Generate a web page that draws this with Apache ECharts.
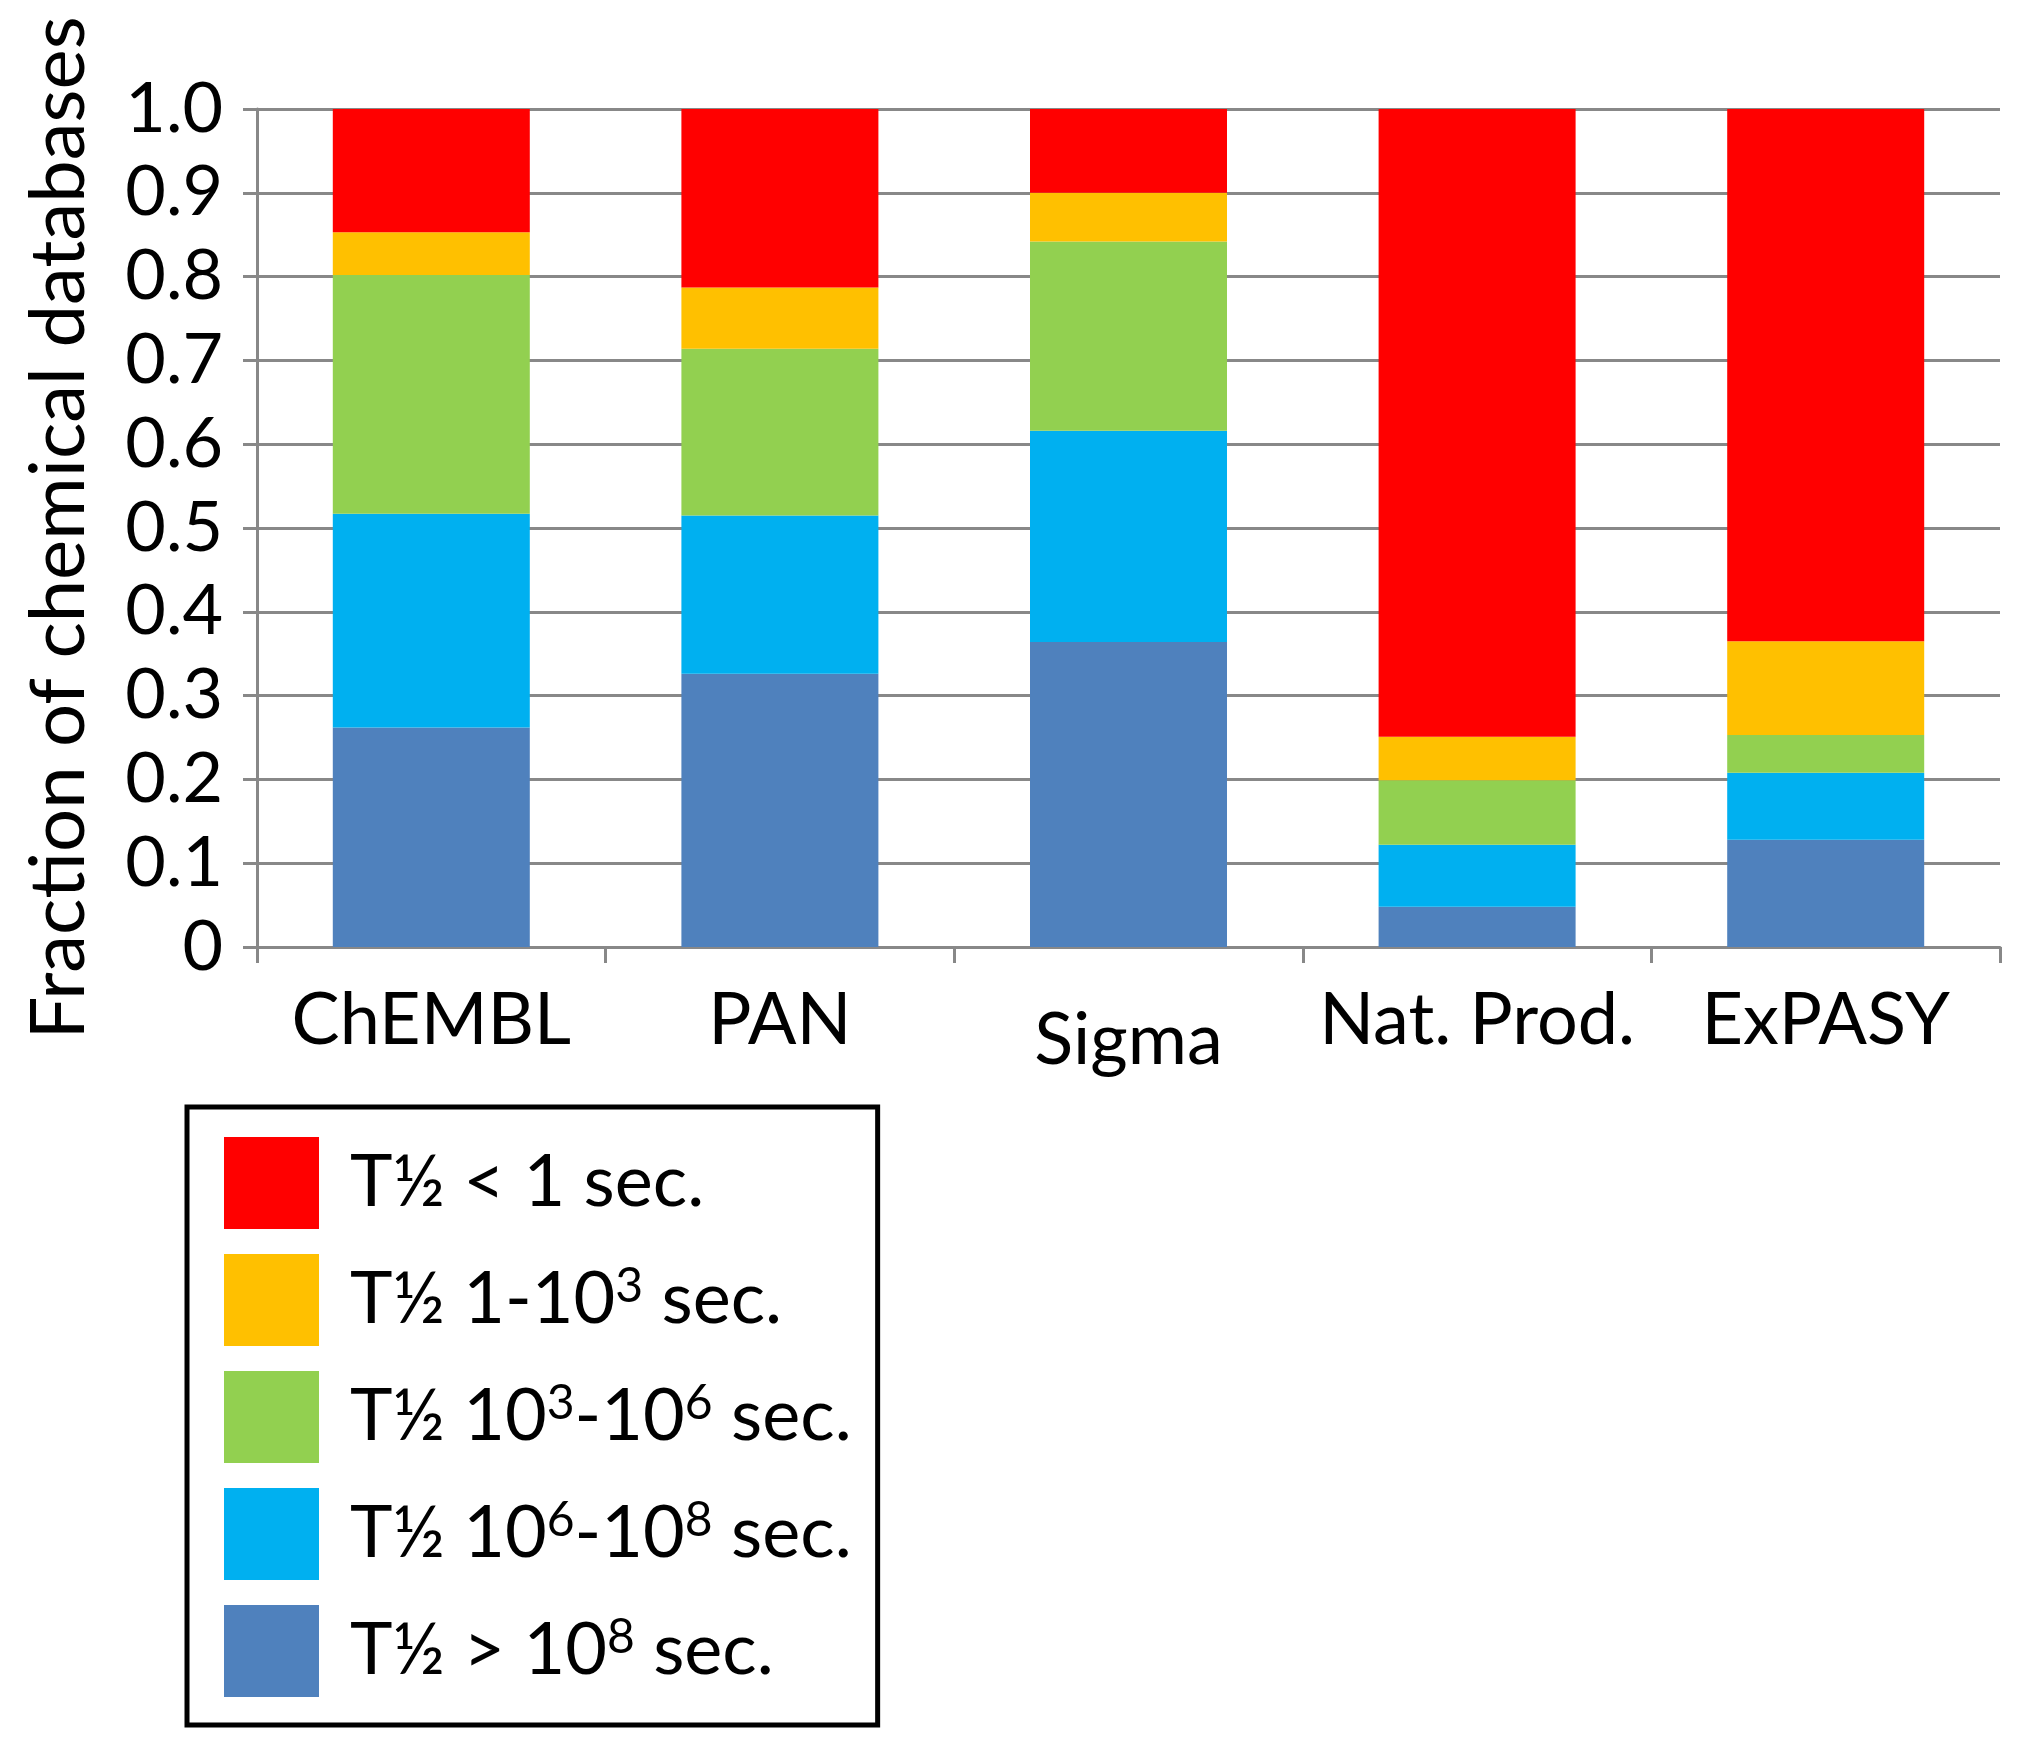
<!DOCTYPE html>
<html>
<head>
<meta charset="utf-8">
<script src="https://cdn.jsdelivr.net/npm/echarts@6/dist/echarts.min.js"></script>
<style>
html,body{margin:0;padding:0;background:#fff;}
#chart{width:2030px;height:1754px;}
</style>
</head>
<body>
<div id="chart"></div>
<script>
const categories = ['ChEMBL', 'PAN', 'Sigma', 'Nat. Prod.', 'ExPASY'];
const seriesNames = ['gt108', 'r106to108', 'r103to106', 'r1to103', 'lt1'];
const legendLabels = {
  lt1: 'T½ < 1 sec.',
  r1to103: 'T½ 1-10{sup|3} sec.',
  r103to106: 'T½ 10{sup|3}-10{sup|6} sec.',
  r106to108: 'T½ 10{sup|6}-10{sup|8} sec.',
  gt108: 'T½ > 10{sup|8} sec.'
};
const gt108 =      [0.262, 0.326, 0.364, 0.048, 0.128];
const r106to108 =  [0.255, 0.189, 0.252, 0.074, 0.080];
const r103to106 =  [0.285, 0.199, 0.226, 0.077, 0.045];
const r1to103 =    [0.051, 0.073, 0.058, 0.052, 0.112];
const lt1 =        [0.147, 0.213, 0.100, 0.749, 0.635];
const yTickLabels = ['0', '0.1', '0.2', '0.3', '0.4', '0.5', '0.6', '0.7', '0.8', '0.9', '1.0'];

const values = {gt108, r106to108, r103to106, r1to103, lt1};
const colors = {gt108:'#4F81BD', r106to108:'#00B0F0', r103to106:'#92D050', r1to103:'#FFC000', lt1:'#FF0000'};

const FONT = 'Lato';
const chart = echarts.init(document.getElementById('chart'));
chart.setOption({
  animation: false,
  backgroundColor: '#fff',
  grid: {left: 257, right: 30, top: 109, bottom: 807, containLabel: false},
  legend: {
    orient: 'vertical',
    left: 187, top: 1107,
    data: ['lt1', 'r1to103', 'r103to106', 'r106to108', 'gt108'],
    itemWidth: 95, itemHeight: 92, itemGap: 25,
    padding: [30, 26, 28, 37],
    borderColor: '#000', borderWidth: 5,
    icon: 'rect',
    formatter: function (name) { return legendLabels[name]; },
    textStyle: {
      fontFamily: FONT, fontSize: 72, color: '#000', padding: [0, 0, 0, 26],
      lineHeight: 80,
      rich: {
        sup: {fontFamily: FONT, fontSize: 48, color: '#000', lineHeight: 80, padding: [0, 0, 26, 0]}
      }
    }
  },
  xAxis: {
    type: 'category',
    data: categories.map(function (c) {
      return c === 'Sigma' ? {value: c, textStyle: {padding: [20, 0, 0, 0]}} : c;
    }),
    axisLine: {lineStyle: {color: '#888', width: 3}},
    axisTick: {show: true, interval: 0, length: 16, lineStyle: {color: '#888', width: 3}},
    axisLabel: {fontFamily: FONT, fontSize: 72, color: '#000', margin: 38, interval: 0, hideOverlap: false},
    splitLine: {show: false}
  },
  yAxis: {
    type: 'value', min: 0, max: 1, interval: 0.1,
    name: 'Fraction of chemical databases',
    nameLocation: 'middle', nameGap: 160,
    nameTextStyle: {fontFamily: FONT, fontSize: 76, color: '#000'},
    axisLine: {show: true, lineStyle: {color: '#888', width: 3}},
    axisTick: {show: true, length: 14, lineStyle: {color: '#888', width: 3}},
    axisLabel: {
      fontFamily: FONT, fontSize: 70, color: '#000', margin: 34,
      formatter: function (v) { return yTickLabels[Math.round(v * 10)]; }
    },
    splitLine: {show: true, lineStyle: {color: '#888', width: 3}}
  },
  series: seriesNames.map(function (n) {
    return {
      name: n, type: 'bar', stack: 'total',
      barWidth: 197,
      itemStyle: {color: colors[n]},
      data: values[n]
    };
  })
});
</script>
</body>
</html>
